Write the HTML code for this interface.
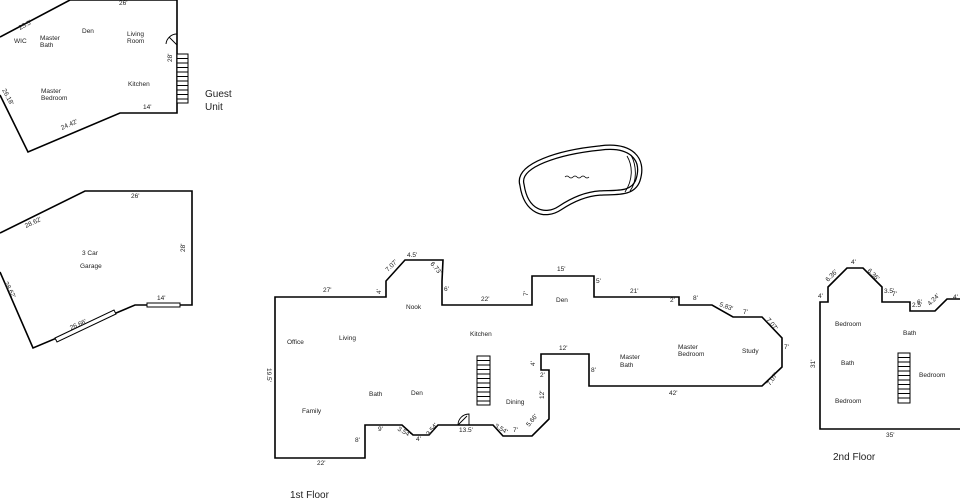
<!DOCTYPE html>
<html><head><meta charset="utf-8"><style>
html,body{margin:0;padding:0;background:#fff;width:960px;height:499px;overflow:hidden}
svg text{font-family:"Liberation Sans","DejaVu Sans",sans-serif;font-size:6.5px;fill:#222}
.big{font-size:10px!important}
</style></head><body>
<svg width="960" height="499" viewBox="0 0 960 499" xmlns="http://www.w3.org/2000/svg">
<g fill="none" stroke="#000" stroke-width="1.6" stroke-linejoin="miter">
<polyline points="0,37 70,0 177,0 177,113 120,113 28,152 0,95"/>
<polyline points="0,233 85,191 192,191 192,305 135,305 33,348 0,272"/>
<polygon points="275,297 386,297 386,281 405,260 443,260 442,281 442,305 532,305 532,276 594,276 594,297 679,297 679,305 712,305 733,317 762,317 782,338 782,367 762,386 589,386 589,354 541,354 541,370 549,370 549,419 532,436 503,436 493,425 438,425 429,435 413,435 402,425 365,425 365,458 275,458"/>
<polyline points="960,429 820,429 820,302 828,302 828,287 847,268 863,268 882,287 882,302 910,302 910,311 935,311 947,299 960,299"/>
</g>
<g stroke="#000" stroke-width="1" fill="#fff">
<rect x="177" y="54" width="11" height="49"/>
<rect x="477" y="356" width="13" height="49"/>
<rect x="898" y="353" width="12" height="50"/>
</g>
<g stroke="#000" stroke-width="0.9">
<path d="M177,58.5h11M177,63h11M177,67.5h11M177,72h11M177,76.5h11M177,81h11M177,85.5h11M177,90h11M177,94.5h11M177,99h11"/>
<path d="M477,360.5h13M477,365h13M477,369.5h13M477,374h13M477,378.5h13M477,383h13M477,387.5h13M477,392h13M477,396.5h13M477,401h13"/>
<path d="M898,357.5h12M898,362h12M898,366.5h12M898,371h12M898,375.5h12M898,380h12M898,384.5h12M898,389h12M898,393.5h12M898,398h12"/>
</g>
<g stroke="#000" stroke-width="1" fill="#fff">
<rect x="147" y="303" width="33" height="4"/>
<polygon points="55,338 114,310 116,314 57,342"/>
</g>
<g fill="none" stroke="#000" stroke-width="0.9">
<path d="M177,45 L169,37 M166,44 A11,11 0 0 1 177,34"/>
<path d="M458,425 L467,416 M458,425 A11,11 0 0 1 469,414 L469,425"/>
</g>
<g fill="none" stroke="#000">
<path d="M522,185 C516,165 560,152 600,148 C630,144 645,158 638,180 C633,195 615,192 600,193 C585,194 572,200 560,208 C545,218 526,212 522,185 Z" stroke-width="5.5"/>
<path d="M522,185 C516,165 560,152 600,148 C630,144 645,158 638,180 C633,195 615,192 600,193 C585,194 572,200 560,208 C545,218 526,212 522,185 Z" stroke="#fff" stroke-width="3"/>
<path d="M627,156 C633,166 633,180 625,192 M631,155 C637,166 637,182 630,191" stroke-width="0.9"/>
<path d="M565,177 q2,-2 4,0 q2,2 4,0 q2,-2 4,0 q2,2 4,0 q2,-2 4,0 q2,2 4,0" stroke-width="0.8"/>
</g>
<text x="119" y="5">26'</text>
<text x="14" y="43">WIC</text>
<text x="40" y="40">Master</text><text x="40" y="47">Bath</text>
<text x="82" y="33">Den</text>
<text x="127" y="36">Living</text><text x="127" y="43">Room</text>
<text x="128" y="86">Kitchen</text>
<text x="41" y="93">Master</text><text x="41" y="100">Bedroom</text>
<text x="143" y="109">14'</text>
<text x="20" y="30" transform="rotate(-28 20 30)">25.5'</text>
<text x="62" y="130" transform="rotate(-24 62 130)">24.42'</text>
<text x="2" y="90" transform="rotate(62 2 90)">26.18'</text>
<text x="172" y="62" transform="rotate(-90 172 62)">28'</text>
<text x="205" y="97" class="big">Guest</text><text x="205" y="110" class="big">Unit</text>
<text x="131" y="198">26'</text>
<text x="26" y="228" transform="rotate(-25 26 228)">28.62'</text>
<text x="82" y="255">3 Car</text>
<text x="80" y="268">Garage</text>
<text x="185" y="252" transform="rotate(-90 185 252)">28'</text>
<text x="157" y="300">14'</text>
<text x="4" y="283" transform="rotate(62 4 283)">28.62'</text>
<text x="71" y="330" transform="rotate(-24 71 330)">26.66'</text>
<text x="323" y="292">27'</text>
<text x="381" y="294" transform="rotate(-90 381 294)">4'</text>
<text x="388" y="272" transform="rotate(-45 388 272)">7.07'</text>
<text x="407" y="257">4.5'</text>
<text x="430" y="264" transform="rotate(50 430 264)">6.73'</text>
<text x="444" y="291">6'</text>
<text x="481" y="301">22'</text>
<text x="528" y="296" transform="rotate(-90 528 296)">7'</text>
<text x="557" y="271">15'</text>
<text x="596" y="283">5'</text>
<text x="630" y="293">21'</text>
<text x="670" y="302">2'</text>
<text x="693" y="300">8'</text>
<text x="719" y="306" transform="rotate(20 719 306)">5.83'</text>
<text x="743" y="314">7'</text>
<text x="766" y="320" transform="rotate(50 766 320)">7.07'</text>
<text x="784" y="349">7'</text>
<text x="770" y="386" transform="rotate(-55 770 386)">7.07'</text>
<text x="669" y="395">42'</text>
<text x="591" y="372">8'</text>
<text x="559" y="350">12'</text>
<text x="535" y="366" transform="rotate(-90 535 366)">4'</text>
<text x="540" y="377">2'</text>
<text x="544" y="399" transform="rotate(-90 544 399)">12'</text>
<text x="529" y="427" transform="rotate(-50 529 427)">5.66'</text>
<text x="513" y="432">7'</text>
<text x="494" y="427" transform="rotate(30 494 427)">3.54'</text>
<text x="459" y="432">13.5'</text>
<text x="429" y="436" transform="rotate(-50 429 436)">3.54'</text>
<text x="416" y="441">4'</text>
<text x="397" y="430" transform="rotate(30 397 430)">3.54'</text>
<text x="378" y="431">9'</text>
<text x="355" y="442">8'</text>
<text x="317" y="465">22'</text>
<text x="267" y="368" transform="rotate(90 267 368)">19.5'</text>
<text x="406" y="309">Nook</text>
<text x="470" y="336">Kitchen</text>
<text x="287" y="344">Office</text>
<text x="339" y="340">Living</text>
<text x="556" y="302">Den</text>
<text x="620" y="359">Master</text><text x="620" y="367">Bath</text>
<text x="678" y="349">Master</text><text x="678" y="356">Bedroom</text>
<text x="742" y="353">Study</text>
<text x="369" y="396">Bath</text>
<text x="411" y="395">Den</text>
<text x="506" y="404">Dining</text>
<text x="302" y="413">Family</text>
<text x="290" y="498" class="big">1st Floor</text>
<text x="818" y="298">4'</text>
<text x="828" y="282" transform="rotate(-45 828 282)">6.36'</text>
<text x="851" y="264">4'</text>
<text x="867" y="271" transform="rotate(45 867 271)">6.36'</text>
<text x="884" y="293">3.5'</text><text x="892" y="296">7'</text>
<text x="912" y="307">2.5'</text><text x="917" y="304">6'</text>
<text x="930" y="306" transform="rotate(-45 930 306)">4.24'</text>
<text x="953" y="299">4'</text>
<text x="835" y="326">Bedroom</text>
<text x="903" y="335">Bath</text>
<text x="841" y="365">Bath</text>
<text x="919" y="377">Bedroom</text>
<text x="835" y="403">Bedroom</text>
<text x="815" y="368" transform="rotate(-90 815 368)">31'</text>
<text x="886" y="437">35'</text>
<text x="833" y="460" class="big">2nd Floor</text>
</svg>
</body></html>
